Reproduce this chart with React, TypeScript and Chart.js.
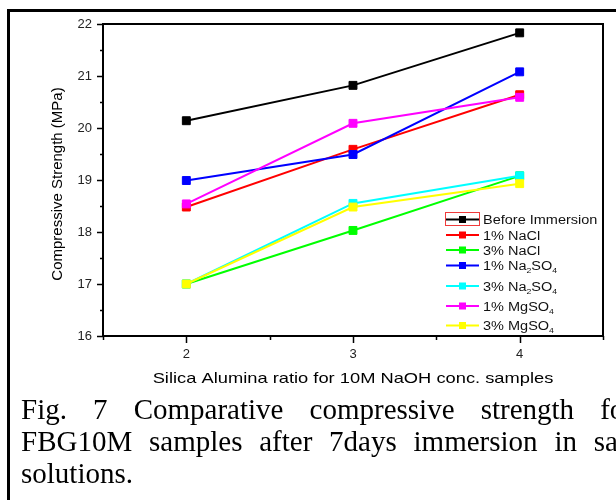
import { useEffect, useRef } from "react";
import { Chart, registerables } from "chart.js";

Chart.register(...registerables);

// Si/Al ratio of the 10M NaOH mixes
const ratios = [2, 3, 4];

// 7-day compressive strength (MPa) per exposure condition
const beforeImmersion = [20.14, 20.82, 21.83];
const naclOne = [18.48, 19.59, 20.64];
const naclThree = [17.0, 18.03, 19.08];
const na2so4One = [18.99, 19.49, 21.08];
const na2so4Three = [17.0, 18.55, 19.08];
const mgso4One = [18.54, 20.09, 20.59];
const mgso4Three = [17.0, 18.48, 18.93];

// "_x" marks a one-character subscript
const seriesNames = [
  "Before Immersion",
  "1% NaCl",
  "3% NaCl",
  "1% Na_2SO_4",
  "3% Na_2SO_4",
  "1% MgSO_4",
  "3% MgSO_4",
];
const seriesValues = [
  beforeImmersion,
  naclOne,
  naclThree,
  na2so4One,
  na2so4Three,
  mgso4One,
  mgso4Three,
];
const seriesColors = ["#000000", "#ff0000", "#00ff00", "#0000ff", "#00ffff", "#ff00ff", "#ffff00"];

const xTickValues = [2, 3, 4];
const yMin = 16;
const yMax = 22;
const xMin = 1.5;
const xMax = 4.5;

const xTitle = "Silica Alumina ratio for 10M NaOH conc. samples";
const yTitle = "Compressive Strength (MPa)";

const captionLines = [
  "Fig. 7 Comparative compressive strength for",
  "FBG10M samples after 7days immersion in salt",
  "solutions.",
];

const SANS = '"Liberation Sans", Arial, Helvetica, sans-serif';

// legend geometry (canvas px)
const legendLineX0 = 446;
const legendLineX1 = 479;
const legendTextX = 483;
const legendRowY = [219.5, 235, 250, 265.5, 286, 306, 325.5];

function parseRich(label: string) {
  const parts: { t: string; sub: boolean }[] = [];
  let buf = "";
  for (let i = 0; i < label.length; i++) {
    if (label[i] === "_" && i + 1 < label.length) {
      if (buf) parts.push({ t: buf, sub: false });
      buf = "";
      parts.push({ t: label[i + 1], sub: true });
      i++;
    } else {
      buf += label[i];
    }
  }
  if (buf) parts.push({ t: buf, sub: false });
  return parts;
}

function drawRichText(
  ctx: CanvasRenderingContext2D,
  label: string,
  x: number,
  baseline: number,
  size: number,
  stretch: number
) {
  ctx.save();
  ctx.translate(x, baseline);
  ctx.scale(stretch, 1);
  ctx.textAlign = "left";
  ctx.textBaseline = "alphabetic";
  let cx = 0;
  for (const p of parseRich(label)) {
    const fs = p.sub ? size * 0.6 : size;
    ctx.font = `${fs}px ${SANS}`;
    ctx.fillText(p.t, cx, p.sub ? size * 0.25 : 0);
    cx += ctx.measureText(p.t).width;
  }
  ctx.restore();
}

const frameAndLegend = {
  id: "frameAndLegend",
  afterDraw(chart: any) {
    const { ctx, chartArea } = chart;
    const xs = chart.scales.x;
    const ys = chart.scales.y;
    const { left, right, top, bottom } = chartArea;

    ctx.save();
    ctx.strokeStyle = "#000";
    ctx.lineWidth = 2;
    ctx.strokeRect(left, top, right - left, bottom - top);

    // y ticks: majors every 1, minors every 0.5, pointing outwards
    ctx.lineWidth = 1.5;
    ctx.beginPath();
    for (let v = yMin; v <= yMax + 1e-9; v += 0.5) {
      const py = Math.round(ys.getPixelForValue(v)) + 0.5;
      const len = Number.isInteger(v) ? 6 : 3;
      ctx.moveTo(left - len, py);
      ctx.lineTo(left, py);
    }
    // x ticks
    for (let v = xMin; v <= xMax + 1e-9; v += 0.5) {
      const px = Math.round(xs.getPixelForValue(v)) + 0.5;
      const len = Number.isInteger(v) ? 7 : 4;
      ctx.moveTo(px, bottom);
      ctx.lineTo(px, bottom + len);
    }
    ctx.stroke();

    // axis titles
    ctx.fillStyle = "#000";
    ctx.save();
    ctx.translate(left - 45.5, (top + bottom) / 2 + 4);
    ctx.rotate(-Math.PI / 2);
    ctx.font = `15px ${SANS}`;
    ctx.textAlign = "center";
    ctx.textBaseline = "middle";
    ctx.fillText(yTitle, 0, 0);
    ctx.restore();

    const sx = 1.22;
    ctx.save();
    ctx.font = `15px ${SANS}`;
    const w = ctx.measureText(xTitle).width;
    ctx.restore();
    drawRichText(ctx, xTitle, (left + right) / 2 - (w * sx) / 2, bottom + 47, 15, sx);

    // legend
    seriesNames.forEach((name, i) => {
      const y = legendRowY[i];
      const c = seriesColors[i];
      ctx.strokeStyle = c;
      ctx.lineWidth = 2;
      ctx.beginPath();
      ctx.moveTo(legendLineX0, y);
      ctx.lineTo(legendLineX1, y);
      ctx.stroke();
      ctx.fillStyle = c;
      const mx = (legendLineX0 + legendLineX1) / 2;
      ctx.fillRect(mx - 3.5, y - 3.5, 7, 7);
      ctx.fillStyle = "#111";
      drawRichText(ctx, name, legendTextX, y + 4.5, 12.5, 1.16);
    });
    // highlight box around the first legend symbol
    ctx.strokeStyle = "#f03a3a";
    ctx.lineWidth = 1;
    ctx.strokeRect(445.5, 212.5, 34, 13);

    ctx.restore();
  },
};

export default function App() {
  const canvasRef = useRef<HTMLCanvasElement | null>(null);

  useEffect(() => {
    const canvas = canvasRef.current;
    if (!canvas) return;

    const datasets = seriesValues.map((vals, i) => ({
      label: seriesNames[i],
      data: ratios.map((r, k) => ({ x: r, y: vals[k] })),
      borderColor: seriesColors[i],
      backgroundColor: seriesColors[i],
      borderWidth: 2,
      pointStyle: "rect" as const,
      pointRadius: 5.6,
      pointBorderWidth: 1,
      pointBorderColor: seriesColors[i],
      pointBackgroundColor: seriesColors[i],
      tension: 0,
      // later series are painted over earlier ones
      order: seriesValues.length - i,
    }));

    const chart = new Chart(canvas, {
      type: "line",
      data: { datasets },
      options: {
        responsive: false,
        animation: false,
        events: [],
        layout: { padding: { left: 0, top: 24, right: 13, bottom: 20 } },
        plugins: {
          legend: { display: false },
          tooltip: { enabled: false },
        },
        scales: {
          x: {
            type: "linear",
            min: xMin,
            max: xMax,
            grid: { display: false, drawTicks: false },
            border: { display: false },
            afterBuildTicks: (s: any) => {
              s.ticks = xTickValues.map((v) => ({ value: v }));
            },
            afterFit: (s: any) => {
              s.height = 44;
            },
            ticks: {
              font: { family: SANS, size: 13 },
              color: "#222",
              padding: 11,
              callback: (v: any) => String(v),
            },
          },
          y: {
            type: "linear",
            min: yMin,
            max: yMax,
            grid: { display: false, drawTicks: false },
            border: { display: false },
            afterFit: (s: any) => {
              s.width = 103;
            },
            ticks: {
              stepSize: 1,
              font: { family: SANS, size: 13 },
              color: "#222",
              padding: 11,
            },
          },
        },
      },
      plugins: [frameAndLegend],
    });

    return () => chart.destroy();
  }, []);

  return (
    <div
      style={{
        position: "fixed",
        left: 0,
        top: 0,
        width: 616,
        height: 500,
        overflow: "hidden",
        background: "#fff",
      }}
    >
      <div
        style={{
          position: "absolute",
          left: 7,
          top: 9,
          width: 720,
          height: 600,
          border: "3px solid #000",
          boxSizing: "border-box",
        }}
      />
      <canvas
        ref={canvasRef}
        width={616}
        height={400}
        style={{ position: "absolute", left: 0, top: 0, width: 616, height: 400 }}
      />
      <div
        style={{
          position: "absolute",
          left: 21,
          top: 393,
          width: 613,
          font: '29px/32px "Liberation Serif", "Times New Roman", serif',
          color: "#000",
        }}
      >
        {captionLines.map((line, i) => (
          <div
            key={i}
            style={{
              textAlign: i < captionLines.length - 1 ? "justify" : "left",
              textAlignLast: i < captionLines.length - 1 ? "justify" : "left",
            }}
          >
            {line}
          </div>
        ))}
      </div>
    </div>
  );
}
